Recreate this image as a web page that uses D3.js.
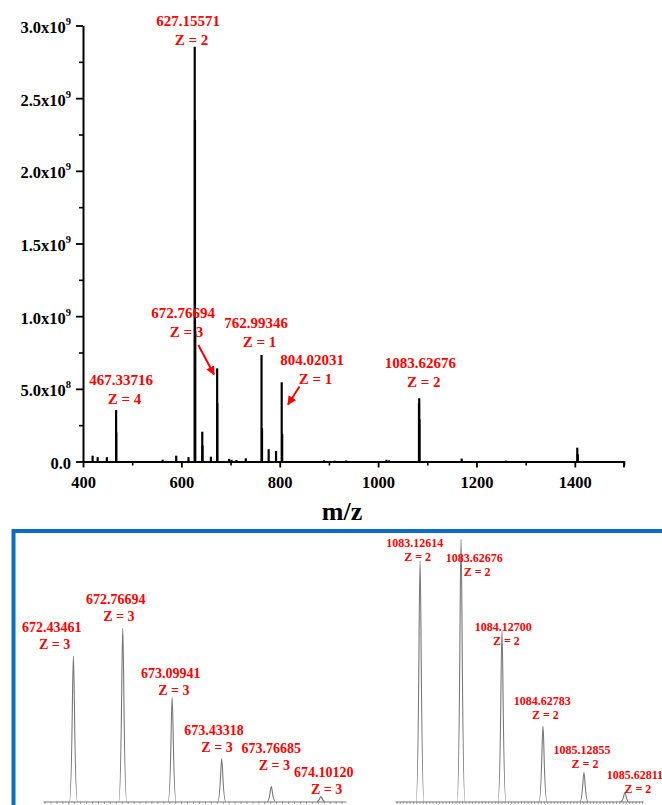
<!DOCTYPE html>
<html>
<head>
<meta charset="utf-8">
<script src="https://cdn.jsdelivr.net/npm/d3@7"></script>
<style>
  html, body { margin: 0; padding: 0; background: #fff; }
  svg { display: block; }
  text { font-family: "Liberation Serif", "Times New Roman", serif; font-weight: bold; }
</style>
</head>
<body>
<div id="chart"></div>
<script>
"use strict";

// full spectrum, sticks (m/z, intensity)
var stickMz = [419.5, 429.8, 448.5, 467.34, 467.59, 562, 589.5, 614.5, 627.16, 627.66, 628.16,
  642.5, 643.0, 660, 672.77, 673.10, 697, 702, 712, 731, 762.99, 764.0, 777.5, 792.5,
  804.02, 805.02, 890, 912, 935, 1017, 1022, 1083.13, 1083.63, 1084.13, 1170, 1260, 1300, 1405, 1406];
var stickInt = [0.040e9, 0.030e9, 0.030e9, 0.354e9, 0.20e9, 0.012e9, 0.040e9, 0.030e9, 2.854e9, 2.35e9, 0.9e9,
  0.205e9, 0.11e9, 0.033e9, 0.641e9, 0.40e9, 0.018e9, 0.012e9, 0.010e9, 0.022e9, 0.733e9, 0.23e9, 0.085e9, 0.072e9,
  0.545e9, 0.19e9, 0.008e9, 0.006e9, 0.007e9, 0.012e9, 0.008e9, 0.40e9, 0.435e9, 0.29e9, 0.020e9, 0.006e9, 0.004e9, 0.095e9, 0.05e9];

var yTicks = [0, 0.5e9, 1.0e9, 1.5e9, 2.0e9, 2.5e9, 3.0e9];
var yTickLabels = [["0.0", ""], ["5.0x10", "8"], ["1.0x10", "9"], ["1.5x10", "9"], ["2.0x10", "9"], ["2.5x10", "9"], ["3.0x10", "9"]];
var xTicks = [400, 600, 800, 1000, 1200, 1400];

// annotated peaks on the full spectrum: [mz text, z text]
var topLabels = [
  ["627.15571", "Z = 2"], ["467.33716", "Z = 4"], ["672.76694", "Z = 3"],
  ["762.99346", "Z = 1"], ["804.02031", "Z = 1"], ["1083.62676", "Z = 2"]
];

// zoomed isotope clusters (relative intensity, %)
var zoomAMz = [672.43461, 672.76694, 673.09941, 673.43318, 673.76685, 674.10120];
var zoomAInt = [84, 100, 60, 24.6, 8.7, 2.9];
var zoomBMz = [1083.12614, 1083.62676, 1084.12700, 1084.62783, 1085.12855, 1085.62811];
var zoomBInt = [91.8, 100, 65, 28.8, 11, 3.4];

var W = 662, H = 805;
var red = "#ff0000";

var svg = d3.select("#chart").append("svg")
  .attr("width", W).attr("height", H);

/* ---------- top: full spectrum ---------- */
var x = d3.scaleLinear().domain([400, 1500]).range([83, 624]);
var y = d3.scaleLinear().domain([0, 3e9]).range([461.5, 25.5]);

var topG = svg.append("g");

// minor ticks
topG.append("g")
  .attr("transform", "translate(0," + y(0) + ")")
  .call(d3.axisBottom(x).tickValues(d3.range(500, 1501, 200)).tickSize(4).tickFormat(""))
  .call(function(g) { g.select(".domain").remove(); g.selectAll("line").attr("stroke-width", 1.6); });
topG.append("g")
  .attr("transform", "translate(" + x(400) + ",0)")
  .call(d3.axisLeft(y).tickValues(d3.range(0.25e9, 3e9, 0.5e9)).tickSize(4).tickFormat(""))
  .call(function(g) { g.select(".domain").remove(); g.selectAll("line").attr("stroke-width", 1.6); });

var xAxis = topG.append("g")
  .attr("transform", "translate(0," + y(0) + ")")
  .call(d3.axisBottom(x).tickValues(xTicks).tickFormat(d3.format("d"))
    .tickSize(6).tickSizeOuter(0).tickPadding(9));
xAxis.select(".domain").attr("stroke-width", 2);
xAxis.selectAll("line").attr("stroke-width", 1.8);
xAxis.selectAll("text").attr("font-size", 16.5).attr("fill", "#000")
  .style("font-family", "Liberation Serif").style("font-weight", "bold");
xAxis.append("line").attr("x1", x(1500)).attr("x2", x(1500)).attr("y1", 0).attr("y2", 6)
  .attr("stroke", "#000").attr("stroke-width", 1.8);

var yAxis = topG.append("g")
  .attr("transform", "translate(" + x(400) + ",0)")
  .call(d3.axisLeft(y).tickValues(yTicks).tickSize(7).tickSizeOuter(0).tickFormat(""));
yAxis.select(".domain").attr("stroke-width", 2);
yAxis.selectAll("line").attr("stroke-width", 1.8);
yAxis.selectAll(".tick").each(function(d, i) {
  var t = d3.select(this).append("text")
    .attr("x", -12).attr("dy", "0.42em")
    .attr("text-anchor", "end").attr("fill", "#000")
    .attr("font-size", 16.5);
  t.append("tspan").text(yTickLabels[i][0]);
  if (yTickLabels[i][1]) {
    t.append("tspan").attr("font-size", 10.5).attr("dy", "-0.75em").text(yTickLabels[i][1]);
  }
});

// sticks
topG.append("g").selectAll("line")
  .data(stickMz)
  .enter().append("line")
    .attr("x1", function(d) { return x(d); })
    .attr("x2", function(d) { return x(d); })
    .attr("y1", y(0))
    .attr("y2", function(d, i) { return y(stickInt[i]); })
    .attr("stroke", "#000")
    .attr("stroke-width", 2.2);

// x title
topG.append("text")
  .attr("x", 342).attr("y", 520)
  .attr("text-anchor", "middle").attr("font-size", 26)
  .text("m/z");

// label placement in pixels
var topLabelPos = [[188, 20.7], [121, 379.3], [183, 312.3], [256, 322.7], [312, 360], [420.3, 362.7]];
var lbl = topG.append("g").attr("fill", red).attr("font-size", 15).attr("text-anchor", "middle");
topLabels.forEach(function(l, i) {
  var p = topLabelPos[i];
  lbl.append("text").attr("x", p[0]).attr("y", p[1]).attr("dy", "0.35em").text(l[0]);
  lbl.append("text").attr("x", p[0] + 3.5).attr("y", p[1] + 19).attr("dy", "0.35em").text(l[1]);
});

// arrows
var defs = svg.append("defs");
defs.append("marker")
  .attr("id", "arrow").attr("viewBox", "0 0 10 10")
  .attr("refX", 9).attr("refY", 5)
  .attr("markerWidth", 4.5).attr("markerHeight", 4.5)
  .attr("orient", "auto")
  .append("path").attr("d", "M0,0 L10,5 L0,10 z").attr("fill", red);

var arrows = [[198.3, 345, 214, 374.5], [299.5, 386.5, 288, 404.5]];
topG.selectAll("line.arrow")
  .data(arrows)
  .enter().append("line")
    .attr("class", "arrow")
    .attr("x1", function(d) { return d[0]; }).attr("y1", function(d) { return d[1]; })
    .attr("x2", function(d) { return d[2]; }).attr("y2", function(d) { return d[3]; })
    .attr("stroke", red).attr("stroke-width", 2)
    .attr("marker-end", "url(#arrow)");

/* ---------- bottom: blue box with isotope clusters ---------- */
svg.append("path")
  .attr("d", "M13.5," + (H + 5) + " L13.5,531 L" + (W + 5) + ",531")
  .attr("fill", "none").attr("stroke", "#0a6fc2").attr("stroke-width", 4);

function peakPath(px, py, base) {
  var hw = 4;
  return "M" + (px - hw) + "," + base +
    " C" + (px - 1.2) + "," + base + " " + (px - 1) + "," + py + " " + px + "," + py +
    " C" + (px + 1) + "," + py + " " + (px + 1.2) + "," + base + " " + (px + hw) + "," + base;
}

function drawZoom(mz, inten, domain, range, yTop, labels, fontSize, labelPos, zOffset) {
  var base = 801.5;
  var xs = d3.scaleLinear().domain(domain).range(range);
  var ys = d3.scaleLinear().domain([0, 100]).range([base, yTop]);
  var g = svg.append("g");

  var minor = d3.range(Math.ceil(domain[0] * 25) / 25, domain[1], 0.04);
  g.append("g")
    .attr("transform", "translate(0," + base + ")")
    .call(d3.axisBottom(xs).tickValues(minor).tickSize(2.5).tickSizeOuter(0).tickFormat(""))
    .call(function(a) {
      a.select(".domain").attr("stroke", "#777").attr("stroke-width", 1.2);
      a.selectAll("line").attr("stroke", "#888").attr("stroke-width", 0.8);
    });

  g.selectAll("path.peak")
    .data(mz)
    .enter().append("path")
      .attr("class", "peak")
      .attr("d", function(d, i) { return peakPath(xs(d), ys(inten[i]), base); })
      .attr("fill", "none").attr("stroke", "#777").attr("stroke-width", 1.1);

  var lg = g.append("g").attr("fill", red).attr("font-size", fontSize).attr("text-anchor", "middle");
  mz.forEach(function(d, i) {
    var p = labelPos[i];
    lg.append("text").attr("x", p[0]).attr("y", p[1]).attr("dy", "0.35em").text(labels[i]);
    lg.append("text").attr("x", p[0] + 3).attr("y", p[1] + zOffset).attr("dy", "0.35em")
      .text("Z = " + (fontSize > 13 ? 3 : 2));
  });
}

drawZoom(zoomAMz, zoomAInt, [672.23, 674.27], [43, 346], 628.3,
  ["672.43461", "672.76694", "673.09941", "673.43318", "673.76685", "674.10120"], 14,
  [[51.7, 626.7], [115.8, 599.3], [170.8, 672.7], [214, 730], [271.3, 748.3], [323.7, 771.7]], 17);

drawZoom(zoomBMz, zoomBInt, [1082.82, 1085.85], [395, 643], 539.3,
  ["1083.12614", "1083.62676", "1084.12700", "1084.62783", "1085.12855", "1085.62811"], 12,
  [[414.7, 542.7], [474.2, 557.7], [503.3, 626.7], [542.3, 700.7], [582, 749.3], [634.8, 775]], 14.2);
</script>
</body>
</html>
